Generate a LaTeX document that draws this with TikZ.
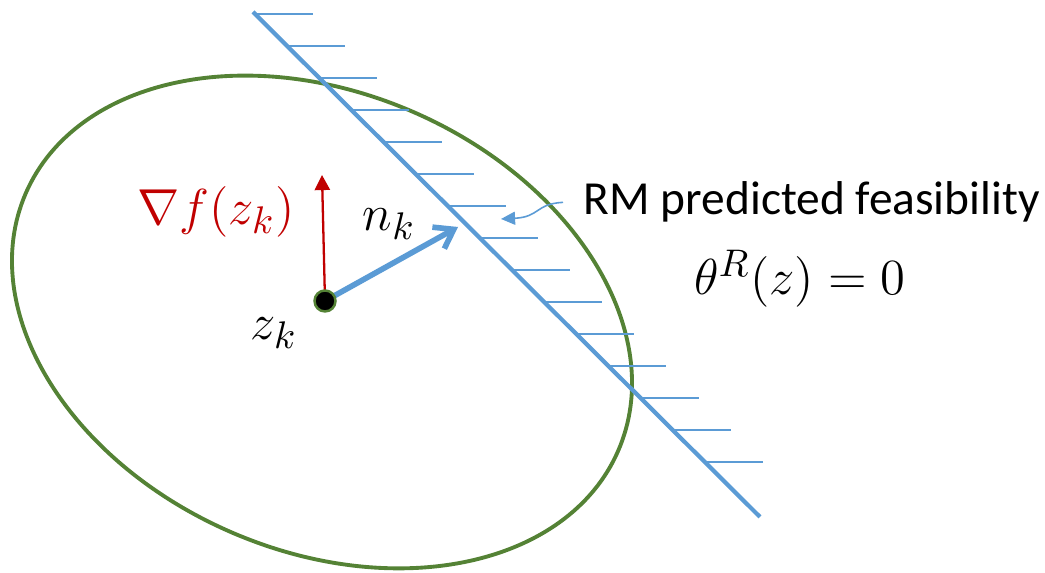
\documentclass[tikz,border=0pt]{standalone}
\usepackage{fontspec}
\newfontfamily\calib{Carlito}
\usetikzlibrary{arrows.meta}
\definecolor{figG}{HTML}{548235}
\definecolor{figB}{HTML}{5B9BD5}
\definecolor{figR}{HTML}{C00000}
\begin{document}
\begin{tikzpicture}[>=stealth,
  hatch/.style={figB,line width=0.45pt},
  mathlbl/.style={font=\fontsize{15}{18}\selectfont,inner sep=0pt}]
\useasboundingbox (0,0) rectangle (10.45,5.73);
% Conjunt factible i frontera predita
\draw[figG,line width=1.1pt,rotate around={-23.5:(3.22,2.51)}] (3.22,2.51) ellipse (3.23 and 2.29);
\coordinate (L1) at (2.53,5.61);
\coordinate (L2) at (7.60,0.56);
\foreach \i in {0,...,14} {
  \pgfmathsetmacro{\hy}{5.59-0.32*\i}
  \pgfmathsetmacro{\hx}{2.53+1.004*(5.61-\hy)}
  \draw[hatch] (\hx,\hy) -- ++(0.58,0);
}
\draw[figB,line width=1.2pt] (L1) -- (L2);
% Punt, gradient i normal
\coordinate (zk) at (3.25,2.72);
\coordinate (gtip) at (3.22,3.98);
\coordinate (ntip) at (4.58,3.46);
\draw[figR,line width=0.65pt,-{Triangle[length=4.3pt,width=4.3pt]}] (zk) -- (gtip);
\draw[figB,line width=1.6pt,-{Straight Barb[length=5pt,width=7pt]}] (zk) -- (ntip);
\node[circle,fill=black,draw=figG,line width=0.7pt,minimum size=0.21cm,inner sep=0pt] (dot) at (zk) {};
\node[mathlbl,text=figR] (grad) at (2.16,3.61) {$\nabla f(z_k)$};
\node[mathlbl] (nlbl) at (3.89,3.49) {$n_k$};
\node[mathlbl] (zlbl) at (2.74,2.40) {$z_k$};
% Etiquetes de la dreta
\node[anchor=base west,inner sep=2mm,font=\calib\fontsize{13.5}{16}\selectfont] (rm) at (5.63,3.58) {RM predicted feasibility};
\node[mathlbl] (theta) at (8.00,2.94) {$\theta^R(z) = 0$};
\coordinate (ptr) at (5.01,3.54);
\draw[figB,line width=0.45pt,-{Triangle[length=4pt,width=3.7pt]}] (rm.west) .. controls (5.35,3.69) and (5.40,3.56) .. (ptr);
\end{tikzpicture}
\end{document}
